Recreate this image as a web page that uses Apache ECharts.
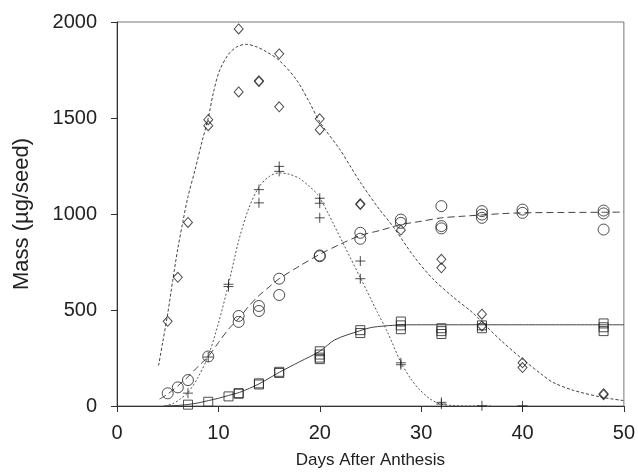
<!DOCTYPE html>
<html>
<head>
<meta charset="utf-8">
<script src="https://cdn.jsdelivr.net/npm/echarts@6/dist/echarts.min.js"></script>
<style>
html,body{margin:0;padding:0;background:#fff;}
#c{width:638px;height:474px;}
</style>
</head>
<body>
<div id="c"></div>
<script>
// Axis ticks
var xTicks = [0, 10, 20, 30, 40, 50];
var yTicks = [0, 500, 1000, 1500, 2000];

// Observed points [day, mass]
var diamondPts = [[5,441],[6,670],[7,956],[9,1491],[9,1460],[12,1964],[12,1636],[14,1694],[14,1690],[16,1834],[16,1558],[20,1496],[20,1439],[24,1049],[24,1053],[28,916],[32,764],[32,720],[36,478],[36,417],[40,225],[40,200],[48,59],[48,64]];
var crossPts = [[7,67],[9,255],[11,634],[11,622],[14,1127],[14,1058],[16,1248],[16,1222],[20,1082],[20,1056],[20,980],[24,755],[24,663],[28,225],[28,215],[32,19],[32,10],[36,1],[40,1]];
var circlePts = [[5,66],[6,97],[7,135],[9,258],[12,469],[12,438],[14,521],[14,495],[16,663],[16,578],[20,784],[20,780],[24,902],[24,871],[28,971],[28,954],[32,1041],[32,937],[32,925],[36,1015],[36,997],[36,980],[40,1023],[40,1006],[48,1018],[48,1003],[48,919]];
var squarePts = [[7,7],[9,22],[11,50],[12,67],[12,64],[14,118],[14,112],[16,178],[16,172],[20,285],[20,268],[20,252],[20,244],[24,395],[24,380],[28,440],[28,420],[28,400],[32,405],[32,390],[32,375],[36,420],[36,405],[48,430],[48,410],[48,390]];

// Fitted curves [day, mass]
var diamondCurve = [[4.1,210],[4.5,330],[5,480],[5.5,655],[6,820],[6.5,960],[7,1090],[7.7,1230],[8.4,1380],[9,1500],[9.5,1630],[10.1,1745],[11,1832],[11.8,1870],[12.7,1884],[13.7,1872],[14.7,1846],[16,1800],[17.7,1699],[19,1580],[20,1480],[22,1335],[23,1250],[24,1165],[25.9,1023],[27.2,937],[29.2,785],[31.1,665],[33.1,570],[35.1,485],[36.4,417],[38,335],[40,244],[42,160],[43,123],[45,82],[47.9,45],[50,28]];
var crossCurve = [[4.7,0],[5.5,12],[6.2,35],[7,70],[8,150],[9,261],[10,430],[11,634],[12,860],[13,1030],[14,1140],[15,1195],[16,1214],[17,1207],[18,1185],[19,1142],[19.8,1101],[20.8,1006],[22.44,833],[24.08,660],[25.7,487],[26.7,383],[28,227],[29,140],[29.8,88],[30.8,40],[31.8,12],[33,3],[34.5,0],[37,0]];
var circleCurve = [[4.2,36],[5,62],[6,105],[7,152],[8,206],[9,258],[10,330],[11,400],[12.1,461],[13,520],[14,575],[15,620],[16,663],[18,729],[20,790],[22,842],[24,888],[26,915],[28,945],[30,962],[32,980],[34,988],[36,995],[38,1002],[40,1006],[44,1008],[48,1009],[50,1010]];
var squareCurve = [[4.6,0],[6,3],[7,8],[8,16],[9,28],[10,40],[11,55],[12.1,71],[14,115],[16,175],[18,230],[20,285],[21.5,345],[23.9,391],[25,408],[26.4,417],[28,422],[30,423],[40,423],[50,423]];

var FONT = '"Liberation Sans", Arial, sans-serif';
var INK = '#222';

function lineSeries(data, dash, color, width) {
  return {
    type: 'line', data: data, smooth: 0.3, showSymbol: false, symbol: 'none',
    lineStyle: { color: color, width: width, type: dash },
    z: 2, silent: true, animation: false
  };
}
function scatterSeries(data, symbol, size) {
  return {
    type: 'scatter', data: data, symbol: symbol, symbolSize: size,
    itemStyle: { color: 'rgba(0,0,0,0)', borderColor: INK, borderWidth: 1 },
    z: 3, silent: true, animation: false
  };
}

var chart = echarts.init(document.getElementById('c'), null, { renderer: 'canvas' });
chart.setOption({
  animation: false,
  backgroundColor: '#fff',
  grid: { left: 117, right: 13, top: 22, bottom: 67, show: true, borderColor: '#777', borderWidth: 1, backgroundColor: 'transparent' },
  xAxis: {
    type: 'value', min: xTicks[0], max: xTicks[xTicks.length - 1], interval: 10,
    name: 'Days After Anthesis', nameLocation: 'middle', nameGap: 46,
    nameTextStyle: { fontFamily: FONT, fontSize: 17, color: INK },
    axisLine: { show: true, onZero: false, lineStyle: { color: '#333', width: 1 } },
    axisTick: { show: true, inside: false, length: 6, lineStyle: { color: '#333' } },
    axisLabel: { fontFamily: FONT, fontSize: 20, color: INK, margin: 17 },
    splitLine: { show: false }
  },
  yAxis: {
    type: 'value', min: yTicks[0], max: yTicks[yTicks.length - 1], interval: 500,
    name: 'Mass (\u00b5g/seed)', nameLocation: 'middle', nameGap: 84,
    nameTextStyle: { fontFamily: FONT, fontSize: 22, color: INK },
    axisLine: { show: true, onZero: false, lineStyle: { color: '#333', width: 1 } },
    axisTick: { show: true, inside: false, length: 6, lineStyle: { color: '#333' } },
    axisLabel: { fontFamily: FONT, fontSize: 20, color: INK, margin: 20, formatter: function (v) { return String(v); } },
    splitLine: { show: false }
  },
  series: [
    lineSeries(diamondCurve, [3, 2], '#444', 1),
    lineSeries(crossCurve, [2, 2], '#555', 1),
    lineSeries(circleCurve, [7, 4], '#444', 1),
    lineSeries(squareCurve, 'solid', '#444', 1),
    scatterSeries(diamondPts, 'diamond', [9, 10]),
    scatterSeries(crossPts, 'path://M5,0L5,10M0,5L10,5', 10),
    scatterSeries(circlePts, 'circle', 11),
    scatterSeries(squarePts, 'rect', 9)
  ]
});
</script>
</body>
</html>
